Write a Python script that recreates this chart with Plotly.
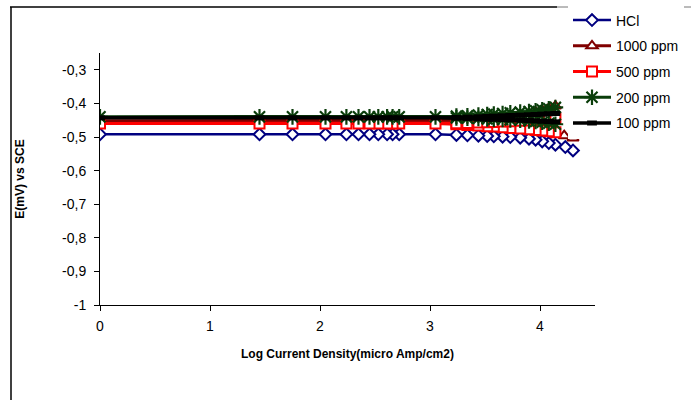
import plotly.graph_objects as go

# ---- data ----
series_names = ["HCl", "1000 ppm", "500 ppm", "200 ppm", "100 ppm"]

# shared log-current positions of the flat (Ecorr) region, descending scan order
x_flat = [3.05, 2.72, 2.66, 2.61, 2.53, 2.45, 2.35, 2.24, 2.05, 1.75, 1.45, 0.0]
# shared log-current positions of the Tafel branches
x_branch = [3.24, 3.34, 3.44, 3.52, 3.58, 3.66, 3.73, 3.82, 3.90, 3.96, 4.02, 4.08, 4.14]

# HCl: cathodic branch only (visible)
hcl_x_tail = [4.23, 4.30]
hcl_flat = -0.492
hcl_low = [-0.494, -0.495, -0.496, -0.497, -0.498, -0.499, -0.500, -0.502, -0.505, -0.508,
           -0.513, -0.518, -0.523]
hcl_low_tail = [-0.530, -0.540]

# 1000 ppm
p1000_flat = -0.452
p1000_low = [-0.454, -0.456, -0.458, -0.460, -0.462, -0.465, -0.468, -0.471, -0.474, -0.477,
             -0.481, -0.485, -0.489]
p1000_x_tail = [4.22, 4.30]
p1000_low_tail = [-0.496, -0.503]
p1000_up = [-0.450, -0.448, -0.446, -0.444, -0.442, -0.440, -0.437, -0.434, -0.430, -0.426,
            -0.421, -0.415, -0.408]

# 500 ppm
p500_flat = -0.460
p500_low = [-0.462, -0.464, -0.466, -0.468, -0.469, -0.471, -0.473, -0.475, -0.477, -0.479,
            -0.481, -0.483, -0.486]
p500_up = [-0.459, -0.458, -0.457, -0.456, -0.455, -0.454, -0.453, -0.452, -0.451, -0.450,
           -0.449, -0.447, -0.445]

# 200 ppm
p200_flat = -0.440
p200_low = [-0.443, -0.444, -0.445, -0.446, -0.447, -0.448, -0.449, -0.450, -0.452, -0.454,
            -0.456, -0.459, -0.462]
p200_up = [-0.438, -0.437, -0.435, -0.433, -0.432, -0.430, -0.428, -0.426, -0.424, -0.422,
           -0.419, -0.416, -0.412]

# 100 ppm
p100_flat = -0.443
p100_low = [-0.444, -0.445, -0.446, -0.447, -0.447, -0.448, -0.449, -0.450, -0.451, -0.452,
            -0.453, -0.454, -0.455]
p100_up = [-0.442, -0.441, -0.440, -0.439, -0.438, -0.437, -0.436, -0.435, -0.434, -0.433,
           -0.432, -0.431, -0.430]

y_tickvals = [-1.0, -0.9, -0.8, -0.7, -0.6, -0.5, -0.4, -0.3]
y_ticktext = ["-1", "-0,9", "-0,8", "-0,7", "-0,6", "-0,5", "-0,4", "-0,3"]
x_tickvals = [0, 1, 2, 3, 4]


def scan(low, flat, up=None, x_tail=None, low_tail=None):
    """Build the scan order: cathodic branch (high->low current), flat region, anodic branch."""
    xs, ys = [], []
    if x_tail:
        xs += list(reversed(x_tail))
        ys += list(reversed(low_tail))
    xs += list(reversed(x_branch))
    ys += list(reversed(low))
    xs += x_flat
    ys += [flat] * len(x_flat)
    if up is not None:
        xs += x_branch
        ys += up
    return xs, ys


FONT = "Liberation Sans, Arial, sans-serif"

styles = [
    dict(color="#000080", lw=2.5, marker=dict(symbol="diamond", size=9, color="white",
                                               line=dict(color="#000080", width=2))),
    dict(color="#800000", lw=3, marker=dict(symbol="triangle-up", size=10, color="white",
                                             line=dict(color="#800000", width=2))),
    dict(color="#ff0000", lw=3, marker=dict(symbol="square", size=10, color="white",
                                             line=dict(color="#ff0000", width=2))),
    dict(color="#0a3d0a", lw=3, marker=dict(symbol="asterisk", size=13, color="#0a3d0a",
                                             line=dict(color="#0a3d0a", width=2.2))),
    dict(color="#000000", lw=3.5, marker=dict(symbol="line-ew", size=7, color="#000000",
                                               line=dict(color="#000000", width=5))),
]

data = [
    scan(hcl_low, hcl_flat, None, hcl_x_tail, hcl_low_tail),
    scan(p1000_low, p1000_flat, p1000_up, p1000_x_tail, p1000_low_tail),
    scan(p500_low, p500_flat, p500_up),
    scan(p200_low, p200_flat, p200_up),
    scan(p100_low, p100_flat, p100_up),
]

fig = go.Figure()
for name, (xs, ys), st in zip(series_names, data, styles):
    fig.add_trace(go.Scatter(
        x=xs, y=ys, name=name, mode="lines+markers", legendgroup=name,
        line=dict(color=st["color"], width=st["lw"]),
        marker=st["marker"],
    ))

L, R, T, B = 100, 96, 53, 95
W, H = 691, 400
pw, ph = W - L - R, H - T - B


def px_x(p):
    return (p - L) / pw


def px_y(p):
    return (H - B - p) / ph


fig.update_layout(
    width=W, height=H,
    margin=dict(l=L, r=R, t=T, b=B, autoexpand=False),
    paper_bgcolor="white", plot_bgcolor="white",
    font=dict(family=FONT, size=14, color="black"),
    showlegend=True,
    legend=dict(
        x=px_x(568), y=px_y(4.5), xanchor="left", yanchor="top",
        bgcolor="white", borderwidth=0, tracegroupgap=4.5, itemwidth=38,
        font=dict(family=FONT, size=14, color="black"),
    ),
    xaxis=dict(
        range=[0, 4.5], tickvals=x_tickvals, ticks="outside", ticklen=5, tickcolor="black",
        showline=True, linecolor="black", linewidth=1, showgrid=False, zeroline=False,
        tickfont=dict(size=14), ticklabelstandoff=3, automargin=False,
        title=dict(text="<b>Log Current Density(micro Amp/cm2)</b>",
                   font=dict(size=12), standoff=16),
    ),
    yaxis=dict(
        range=[-1, -0.25], tickvals=y_tickvals, ticktext=y_ticktext, ticks="outside",
        ticklen=5, tickcolor="black", showline=True, linecolor="black", linewidth=1,
        showgrid=False, zeroline=False, tickfont=dict(size=14), automargin=False,
        ticklabelstandoff=5,
        title=dict(text="<b>E(mV) vs SCE</b>", font=dict(size=12), standoff=34),
    ),
    shapes=[
        dict(type="line", xref="paper", yref="paper", x0=px_x(10), x1=px_x(557),
             y0=px_y(7), y1=px_y(7), line=dict(color="black", width=1.5)),
        dict(type="line", xref="paper", yref="paper", x0=px_x(557), x1=px_x(700),
             y0=px_y(7), y1=px_y(7), line=dict(color="#777777", width=1)),
        dict(type="line", xref="paper", yref="paper", x0=px_x(11), x1=px_x(11),
             y0=px_y(7), y1=px_y(410), line=dict(color="black", width=1.5)),
    ],
)

fig.write_html("out.html", config={"displayModeBar": False},
               post_script="document.body.style.margin='0';document.body.style.padding='0';")
